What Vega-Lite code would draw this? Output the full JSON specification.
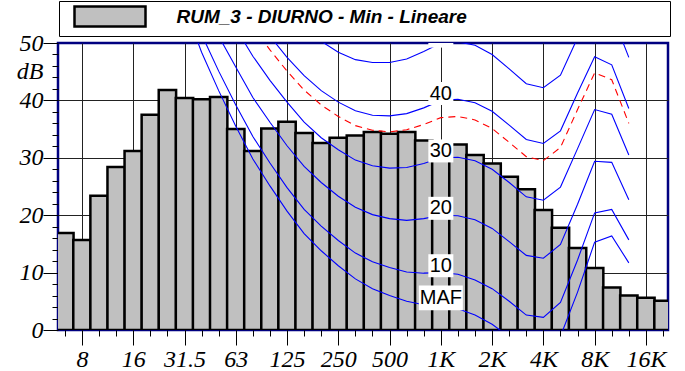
{
  "$schema": "https://vega.github.io/schema/vega-lite/v6.json",
  "width": 610,
  "height": 287,
  "autosize": {"type": "none"},
  "padding": {"left": 58, "top": 43, "right": 17, "bottom": 41},
  "background": "white",
  "config": {
    "view": {"stroke": "#000080", "strokeWidth": 2.5},
    "axis": {"domain": false, "tickColor": "#000", "tickWidth": 1, "labelColor": "#000", "gridColor": "#222", "gridWidth": 1, "title": null}
  },
  "datasets": {
    "bars": [
      {"f": "6.3", "b": 8, "v": 16.9}, {"f": "8", "b": 9, "v": 15.7}, {"f": "10", "b": 10, "v": 23.4},
      {"f": "12.5", "b": 11, "v": 28.4}, {"f": "16", "b": 12, "v": 31.2}, {"f": "20", "b": 13, "v": 37.5},
      {"f": "25", "b": 14, "v": 41.8}, {"f": "31.5", "b": 15, "v": 40.4}, {"f": "40", "b": 16, "v": 40.2},
      {"f": "50", "b": 17, "v": 40.6}, {"f": "63", "b": 18, "v": 35.0}, {"f": "80", "b": 19, "v": 31.2},
      {"f": "100", "b": 20, "v": 35.1}, {"f": "125", "b": 21, "v": 36.3}, {"f": "160", "b": 22, "v": 34.3},
      {"f": "200", "b": 23, "v": 32.6}, {"f": "250", "b": 24, "v": 33.5}, {"f": "315", "b": 25, "v": 33.9},
      {"f": "400", "b": 26, "v": 34.5}, {"f": "500", "b": 27, "v": 34.2}, {"f": "630", "b": 28, "v": 34.5},
      {"f": "800", "b": 29, "v": 33.0}, {"f": "1K", "b": 30, "v": 32.8}, {"f": "1.25K", "b": 31, "v": 32.3},
      {"f": "1.6K", "b": 32, "v": 30.5}, {"f": "2K", "b": 33, "v": 29.0}, {"f": "2.5K", "b": 34, "v": 26.7},
      {"f": "3.15K", "b": 35, "v": 24.5}, {"f": "4K", "b": 36, "v": 20.9}, {"f": "5K", "b": 37, "v": 17.8},
      {"f": "6.3K", "b": 38, "v": 14.3}, {"f": "8K", "b": 39, "v": 10.8}, {"f": "10K", "b": 40, "v": 7.4},
      {"f": "12.5K", "b": 41, "v": 6.0}, {"f": "16K", "b": 42, "v": 5.6}, {"f": "20K", "b": 43, "v": 5.1}
    ],
    "curves": [
      {"c": "MAF", "b": 15, "v": 56.3}, {"c": "MAF", "b": 16, "v": 48.4}, {"c": "MAF", "b": 17, "v": 41.7}, {"c": "MAF", "b": 18, "v": 35.5}, {"c": "MAF", "b": 19, "v": 29.8}, {"c": "MAF", "b": 20, "v": 25.1}, {"c": "MAF", "b": 21, "v": 20.7}, {"c": "MAF", "b": 22, "v": 16.8}, {"c": "MAF", "b": 23, "v": 13.8}, {"c": "MAF", "b": 24, "v": 11.2}, {"c": "MAF", "b": 25, "v": 8.9}, {"c": "MAF", "b": 26, "v": 7.2}, {"c": "MAF", "b": 27, "v": 6.0}, {"c": "MAF", "b": 28, "v": 5.0}, {"c": "MAF", "b": 29, "v": 4.4}, {"c": "MAF", "b": 30, "v": 4.2}, {"c": "MAF", "b": 31, "v": 3.7}, {"c": "MAF", "b": 32, "v": 2.6}, {"c": "MAF", "b": 33, "v": 1.0}, {"c": "MAF", "b": 34, "v": -1.2}, {"c": "MAF", "b": 35, "v": -3.6}, {"c": "MAF", "b": 36, "v": -3.9}, {"c": "MAF", "b": 37, "v": -1.1}, {"c": "MAF", "b": 38, "v": 6.6}, {"c": "MAF", "b": 39, "v": 15.3}, {"c": "MAF", "b": 40, "v": 16.4}, {"c": "MAF", "b": 41, "v": 11.7},
      {"c": "10", "b": 16, "v": 51.5}, {"c": "10", "b": 17, "v": 45.1}, {"c": "10", "b": 18, "v": 39.2}, {"c": "10", "b": 19, "v": 33.7}, {"c": "10", "b": 20, "v": 29.1}, {"c": "10", "b": 21, "v": 24.8}, {"c": "10", "b": 22, "v": 21.0}, {"c": "10", "b": 23, "v": 18.1}, {"c": "10", "b": 24, "v": 15.6}, {"c": "10", "b": 25, "v": 13.4}, {"c": "10", "b": 26, "v": 11.9}, {"c": "10", "b": 27, "v": 10.9}, {"c": "10", "b": 28, "v": 10.1}, {"c": "10", "b": 29, "v": 9.9}, {"c": "10", "b": 30, "v": 10.0}, {"c": "10", "b": 31, "v": 9.7}, {"c": "10", "b": 32, "v": 8.7}, {"c": "10", "b": 33, "v": 7.2}, {"c": "10", "b": 34, "v": 5.0}, {"c": "10", "b": 35, "v": 2.6}, {"c": "10", "b": 36, "v": 2.2}, {"c": "10", "b": 37, "v": 4.8}, {"c": "10", "b": 38, "v": 12.2}, {"c": "10", "b": 39, "v": 20.4}, {"c": "10", "b": 40, "v": 21.0}, {"c": "10", "b": 41, "v": 15.7},
      {"c": "20", "b": 17, "v": 51.2}, {"c": "20", "b": 18, "v": 45.8}, {"c": "20", "b": 19, "v": 40.5}, {"c": "20", "b": 20, "v": 36.2}, {"c": "20", "b": 21, "v": 32.1}, {"c": "20", "b": 22, "v": 28.5}, {"c": "20", "b": 23, "v": 25.7}, {"c": "20", "b": 24, "v": 23.3}, {"c": "20", "b": 25, "v": 21.4}, {"c": "20", "b": 26, "v": 20.1}, {"c": "20", "b": 27, "v": 19.4}, {"c": "20", "b": 28, "v": 19.1}, {"c": "20", "b": 29, "v": 19.4}, {"c": "20", "b": 30, "v": 20.0}, {"c": "20", "b": 31, "v": 19.9}, {"c": "20", "b": 32, "v": 19.2}, {"c": "20", "b": 33, "v": 17.7}, {"c": "20", "b": 34, "v": 15.4}, {"c": "20", "b": 35, "v": 13.0}, {"c": "20", "b": 36, "v": 12.5}, {"c": "20", "b": 37, "v": 14.9}, {"c": "20", "b": 38, "v": 21.9}, {"c": "20", "b": 39, "v": 29.4}, {"c": "20", "b": 40, "v": 29.2}, {"c": "20", "b": 41, "v": 22.7},
      {"c": "30", "b": 18, "v": 52.6}, {"c": "30", "b": 19, "v": 47.7}, {"c": "30", "b": 20, "v": 43.5}, {"c": "30", "b": 21, "v": 39.7}, {"c": "30", "b": 22, "v": 36.2}, {"c": "30", "b": 23, "v": 33.5}, {"c": "30", "b": 24, "v": 31.4}, {"c": "30", "b": 25, "v": 29.6}, {"c": "30", "b": 26, "v": 28.6}, {"c": "30", "b": 27, "v": 28.2}, {"c": "30", "b": 28, "v": 28.3}, {"c": "30", "b": 29, "v": 29.0}, {"c": "30", "b": 30, "v": 30.0}, {"c": "30", "b": 31, "v": 30.1}, {"c": "30", "b": 32, "v": 29.5}, {"c": "30", "b": 33, "v": 28.0}, {"c": "30", "b": 34, "v": 25.7}, {"c": "30", "b": 35, "v": 23.2}, {"c": "30", "b": 36, "v": 22.6}, {"c": "30", "b": 37, "v": 24.9}, {"c": "30", "b": 38, "v": 31.6}, {"c": "30", "b": 39, "v": 38.4}, {"c": "30", "b": 40, "v": 37.6}, {"c": "30", "b": 41, "v": 30.5},
      {"c": "40", "b": 20, "v": 51.2}, {"c": "40", "b": 21, "v": 47.5}, {"c": "40", "b": 22, "v": 44.3}, {"c": "40", "b": 23, "v": 41.7}, {"c": "40", "b": 24, "v": 39.7}, {"c": "40", "b": 25, "v": 38.2}, {"c": "40", "b": 26, "v": 37.4}, {"c": "40", "b": 27, "v": 37.3}, {"c": "40", "b": 28, "v": 37.7}, {"c": "40", "b": 29, "v": 38.7}, {"c": "40", "b": 30, "v": 40.0}, {"c": "40", "b": 31, "v": 40.2}, {"c": "40", "b": 32, "v": 39.6}, {"c": "40", "b": 33, "v": 38.1}, {"c": "40", "b": 34, "v": 35.7}, {"c": "40", "b": 35, "v": 33.2}, {"c": "40", "b": 36, "v": 32.5}, {"c": "40", "b": 37, "v": 34.7}, {"c": "40", "b": 38, "v": 41.3}, {"c": "40", "b": 39, "v": 47.6}, {"c": "40", "b": 40, "v": 46.2}, {"c": "40", "b": 41, "v": 38.6},
      {"c": "50", "b": 22, "v": 52.7}, {"c": "50", "b": 23, "v": 50.3}, {"c": "50", "b": 24, "v": 48.4}, {"c": "50", "b": 25, "v": 47.1}, {"c": "50", "b": 26, "v": 46.6}, {"c": "50", "b": 27, "v": 46.6}, {"c": "50", "b": 28, "v": 47.2}, {"c": "50", "b": 29, "v": 48.5}, {"c": "50", "b": 30, "v": 50.0}, {"c": "50", "b": 31, "v": 50.2}, {"c": "50", "b": 32, "v": 49.6}, {"c": "50", "b": 33, "v": 48.0}, {"c": "50", "b": 34, "v": 45.5}, {"c": "50", "b": 35, "v": 42.9}, {"c": "50", "b": 36, "v": 42.2}, {"c": "50", "b": 37, "v": 44.4}, {"c": "50", "b": 38, "v": 50.9}, {"c": "50", "b": 39, "v": 56.9}, {"c": "50", "b": 40, "v": 55.1}, {"c": "50", "b": 41, "v": 47.5}
    ],
    "red": [
      {"b": 19, "v": 52.8}, {"b": 20, "v": 48.8}, {"b": 21, "v": 45.1}, {"b": 22, "v": 41.8}, {"b": 23, "v": 39.2}, {"b": 24, "v": 37.2}, {"b": 25, "v": 35.6}, {"b": 26, "v": 34.8}, {"b": 27, "v": 34.5}, {"b": 28, "v": 34.9}, {"b": 29, "v": 35.8}, {"b": 30, "v": 37.0}, {"b": 31, "v": 37.2}, {"b": 32, "v": 36.6}, {"b": 33, "v": 35.1}, {"b": 34, "v": 32.7}, {"b": 35, "v": 30.2}, {"b": 36, "v": 29.5}, {"b": 37, "v": 31.8}, {"b": 38, "v": 38.4}, {"b": 39, "v": 44.8}, {"b": 40, "v": 43.6}, {"b": 41, "v": 36.0}
    ],
    "labels": [
      {"lab": "MAF", "b": 30, "v": 5.6}, {"lab": "10", "b": 30, "v": 11.2}, {"lab": "20", "b": 30, "v": 21.2},
      {"lab": "30", "b": 30, "v": 31.2}, {"lab": "40", "b": 30, "v": 41.2}, {"lab": "50", "b": 30, "v": 51.2}
    ]
  },
  "encoding": {
    "x": {
      "field": "b", "type": "quantitative",
      "scale": {"domain": [7.89, 43], "nice": false, "zero": false},
      "axis": {
        "values": [8,9,10,11,12,13,14,15,16,17,18,19,20,21,22,23,24,25,26,27,28,29,30,31,32,33,34,35,36,37,38,39,40,41,42,43],
        "labelExpr": "datum.value==9?'8':datum.value==12?'16':datum.value==15?'31.5':datum.value==18?'63':datum.value==21?'125':datum.value==24?'250':datum.value==27?'500':datum.value==30?'1K':datum.value==33?'2K':datum.value==36?'4K':datum.value==39?'8K':datum.value==42?'16K':''",
        "labelFont": "Liberation Serif, Times New Roman, serif",
        "labelFontStyle": "italic",
        "labelFontSize": 24,
        "grid": true,
        "gridOpacity": {"condition": {"test": "datum.value % 3 == 0 && datum.value < 43", "value": 1}, "value": 0},
        "tickSize": {"condition": {"test": "datum.value % 3 == 0", "value": 15}, "value": 6},
        "labelPadding": 2,
        "labelOverlap": false,
        "labelFlush": false,
        "labelBound": false
      }
    },
    "y": {
      "field": "v", "type": "quantitative",
      "scale": {"domain": [0, 50], "nice": false, "zero": false},
      "axis": {
        "values": [0,2,4,6,8,10,12,14,16,18,20,22,24,26,28,30,32,34,36,38,40,42,44,46,48,50,45],
        "labelExpr": "datum.value == 45 ? 'dB' : (datum.value % 10 == 0 ? datum.label : '')",
        "labelFont": "Liberation Serif, Times New Roman, serif",
        "labelFontStyle": "italic",
        "labelFontSize": 24,
        "grid": true,
        "gridOpacity": {"condition": {"test": "datum.value % 10 == 0 && datum.value > 0 && datum.value < 50", "value": 1}, "value": 0},
        "tickSize": {"condition": {"test": "datum.value % 10 == 0 || datum.value == 45", "value": 15}, "value": 6},
        "tickOpacity": {"condition": {"test": "datum.value == 45", "value": 0}, "value": 1},
        "labelPadding": 0,
        "labelOverlap": false,
        "labelFlush": false,
        "labelBound": false
      }
    }
  },
  "layer": [
    {
      "data": {"name": "bars"},
      "mark": {"type": "bar", "orient": "vertical", "width": 17.37, "stroke": "#000", "strokeWidth": 2.5, "clip": true},
      "encoding": {
        "fill": {
          "datum": "RUM_3 - DIURNO - Min - Lineare", "type": "nominal",
          "scale": {"range": ["#c0c0c0"]},
          "legend": {
            "orient": "none", "legendX": 1, "legendY": -42, "title": null,
            "symbolType": "M-3.55,-1H3.55V1H-3.55Z M55.1,0L55.1,0",
            "symbolSize": 400,
            "symbolStrokeColor": "#000", "symbolStrokeWidth": 2.5, "symbolOpacity": 1,
            "symbolOffset": 35.5, "labelOffset": 55, "padding": 4,
            "strokeColor": "#000", "fillColor": "#fff",
            "labelFont": "Liberation Sans", "labelFontSize": 19, "labelFontWeight": "bold", "labelFontStyle": "italic", "labelColor": "#000",
            "labelLimit": 0
          }
        }
      }
    },
    {
      "data": {"name": "curves"},
      "mark": {"type": "line", "stroke": "#0000ff", "strokeWidth": 1.1, "clip": true},
      "encoding": {"detail": {"field": "c", "type": "nominal"}}
    },
    {
      "data": {"name": "red"},
      "mark": {"type": "line", "stroke": "#ff0000", "strokeWidth": 1.1, "strokeDash": [7, 5], "clip": true},
      "encoding": {}
    },
    {
      "data": {"name": "labels"},
      "transform": [{"filter": "datum.lab != 'MAF'"}],
      "mark": {"type": "point", "shape": "M-1,-0.92H1V0.92H-1Z", "size": 625, "filled": true, "fill": "#fff", "strokeWidth": 0, "opacity": 1, "clip": true},
      "encoding": {}
    },
    {
      "data": {"name": "labels"},
      "transform": [{"filter": "datum.lab == 'MAF'"}],
      "mark": {"type": "point", "shape": "M-1,-0.56H1V0.56H-1Z", "size": 1936, "filled": true, "fill": "#fff", "strokeWidth": 0, "opacity": 1, "clip": true},
      "encoding": {}
    },
    {
      "data": {"name": "labels"},
      "mark": {"type": "text", "font": "Liberation Sans", "fontSize": 20, "fill": "#000", "align": "center", "baseline": "middle", "clip": true},
      "encoding": {"text": {"field": "lab", "type": "nominal"}}
    }
  ]
}
